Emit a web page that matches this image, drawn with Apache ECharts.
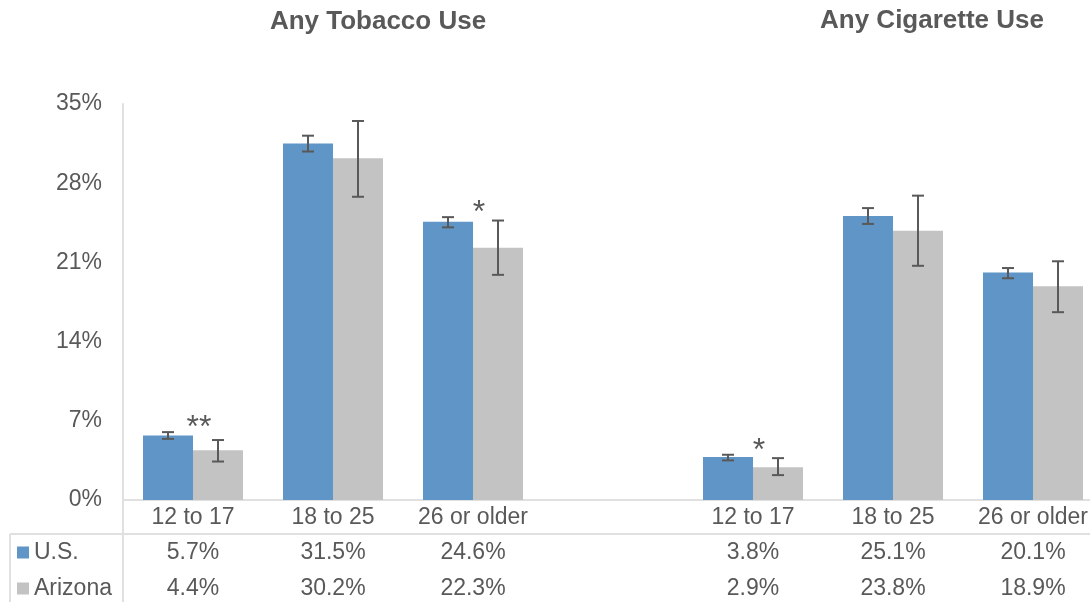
<!DOCTYPE html>
<html><head><meta charset="utf-8">
<script src="https://cdn.jsdelivr.net/npm/echarts@6/dist/echarts.min.js"></script>
<style>html,body{margin:0;padding:0;background:#fff}#c{width:1090px;height:602px}</style>
</head><body><div id="c"></div>
<script>
// ---- data ----
const ageGroups = ['12 to 17', '18 to 25', '26 or older'];
const panelTitles = ['Any Tobacco Use', 'Any Cigarette Use'];
const seriesNames = ['U.S.', 'Arizona'];
const tobaccoUS = [5.7, 31.5, 24.6];
const tobaccoAZ = [4.4, 30.2, 22.3];
const cigaretteUS = [3.8, 25.1, 20.1];
const cigaretteAZ = [2.9, 23.8, 18.9];
const tobaccoUSLow = [5.4, 30.8, 24.1];
const tobaccoUSHigh = [6.0, 32.2, 25.0];
const tobaccoAZLow = [3.4, 26.8, 19.9];
const tobaccoAZHigh = [5.3, 33.5, 24.7];
const cigaretteUSLow = [3.5, 24.4, 19.6];
const cigaretteUSHigh = [4.0, 25.8, 20.5];
const cigaretteAZLow = [2.2, 20.7, 16.6];
const cigaretteAZHigh = [3.7, 26.9, 21.1];
const tobaccoSig = ['**', '', '*'];
const cigaretteSig = ['*', '', ''];
const yMin = 0, yMax = 35, yStep = 7;

// ---- build ----
const categories = [...ageGroups, '', ...ageGroups];
const usVals = [...tobaccoUS, null, ...cigaretteUS];
const azVals = [...tobaccoAZ, null, ...cigaretteAZ];
const usLow = [...tobaccoUSLow, null, ...cigaretteUSLow];
const usHigh = [...tobaccoUSHigh, null, ...cigaretteUSHigh];
const azLow = [...tobaccoAZLow, null, ...cigaretteAZLow];
const azHigh = [...tobaccoAZHigh, null, ...cigaretteAZHigh];
const sigs = [...tobaccoSig, '', ...cigaretteSig];
const fmt = v => v == null ? '' : v.toFixed(1) + '%';

const FONT = 'Liberation Sans, Arial, sans-serif';
const TXT = '#595959';
const BLUE = '#5f95c7';
const GREY = '#c4c3c4';
const LINE = '#e0e0e0';
const GAP = 40 / 140;
const FS = 23;

function errData(low, high) {
  const out = [];
  low.forEach((l, i) => { if (l != null) out.push([i, l, high[i]]); });
  return out;
}
function errRender(side) {
  return function (params, api) {
    const band = api.size([1, 0])[0];
    const off = side * band * (1 - GAP) / 4;
    const p1 = api.coord([api.value(0), api.value(1)]);
    const p2 = api.coord([api.value(0), api.value(2)]);
    const x = p1[0] + off, cap = 6;
    const st = { stroke: TXT, lineWidth: 2 };
    return { type: 'group', children: [
      { type: 'line', shape: { x1: x, y1: p1[1], x2: x, y2: p2[1] }, style: st },
      { type: 'line', shape: { x1: x - cap, y1: p1[1], x2: x + cap, y2: p1[1] }, style: st },
      { type: 'line', shape: { x1: x - cap, y1: p2[1], x2: x + cap, y2: p2[1] }, style: st }
    ]};
  };
}
const sigData = [];
sigs.forEach((s, i) => { if (s) sigData.push([i, Math.max(usHigh[i], azHigh[i]), s]); });

const legendBase = {
  orient: 'vertical', left: 12, padding: 5,
  icon: 'rect', itemWidth: 12, itemHeight: 12,
  textStyle: { fontFamily: FONT, fontSize: FS, color: TXT }
};
const axisLbl = { fontFamily: FONT, fontSize: FS, color: TXT, margin: 6, interval: 0 };

const chart = echarts.init(document.getElementById('c'), null, { renderer: 'canvas' });
chart.setOption({
  animation: false,
  textStyle: { fontFamily: FONT },
  title: [
    { text: panelTitles[0], left: 373, top: 4, textAlign: 'center',
      textStyle: { fontFamily: FONT, fontSize: 26, fontWeight: 'bold', color: TXT } },
    { text: panelTitles[1], left: 927, top: 3, textAlign: 'center',
      textStyle: { fontFamily: FONT, fontSize: 26, fontWeight: 'bold', color: TXT } }
  ],
  legend: [
    Object.assign({}, legendBase, { data: [seriesNames[0]], top: 536 }),
    Object.assign({}, legendBase, { data: [seriesNames[1]], top: 572 })
  ],
  grid: { left: 123, right: -13, top: 104, bottom: 102, containLabel: false, outerBoundsMode: 'none' },
  xAxis: [
    { type: 'category', data: categories,
      axisLine: { lineStyle: { color: LINE, width: 2 } }, axisTick: { show: false },
      axisLabel: axisLbl },
    { type: 'category', data: usVals.map(fmt), position: 'bottom', offset: 35,
      axisLine: { show: false }, axisTick: { show: false }, axisLabel: axisLbl },
    { type: 'category', data: azVals.map(fmt), position: 'bottom', offset: 71,
      axisLine: { show: false }, axisTick: { show: false }, axisLabel: axisLbl }
  ],
  yAxis: {
    type: 'value', min: yMin, max: yMax, interval: yStep,
    axisLine: { show: true, lineStyle: { color: LINE, width: 2 } },
    axisTick: { show: false }, splitLine: { show: false },
    axisLabel: { formatter: '{value}%', fontFamily: FONT, fontSize: FS, color: TXT, margin: 21 }
  },
  graphic: [
    { type: 'line', shape: { x1: 123, y1: 500, x2: 123, y2: 602 }, style: { stroke: LINE, lineWidth: 2 }, silent: true },
    { type: 'line', shape: { x1: 10, y1: 534, x2: 1090, y2: 534 }, style: { stroke: LINE, lineWidth: 2 }, silent: true },
    { type: 'line', shape: { x1: 10, y1: 534, x2: 10, y2: 602 }, style: { stroke: LINE, lineWidth: 2 }, silent: true }
  ],
  series: [
    { name: seriesNames[0], type: 'bar', data: usVals, barGap: '0%', barCategoryGap: (GAP * 100) + '%',
      itemStyle: { color: BLUE } },
    { name: seriesNames[1], type: 'bar', data: azVals, barGap: '0%', barCategoryGap: (GAP * 100) + '%',
      itemStyle: { color: GREY } },
    { name: 'usErr', type: 'custom', data: errData(usLow, usHigh), renderItem: errRender(-1),
      encode: { x: 0, y: [1, 2] }, z: 5 },
    { name: 'azErr', type: 'custom', data: errData(azLow, azHigh), renderItem: errRender(1),
      encode: { x: 0, y: [1, 2] }, z: 5 },
    { name: 'sig', type: 'custom', data: sigData, encode: { x: 0, y: 1 }, z: 6,
      renderItem: function (params, api) {
        const p = api.coord([api.value(0), api.value(1)]);
        return { type: 'text', x: p[0] + 6, y: p[1] - 4,
          style: { text: sigData[params.dataIndex][2], font: '32px ' + FONT, fill: TXT,
            align: 'center', verticalAlign: 'middle' } };
      } }
  ]
});
</script></body></html>
